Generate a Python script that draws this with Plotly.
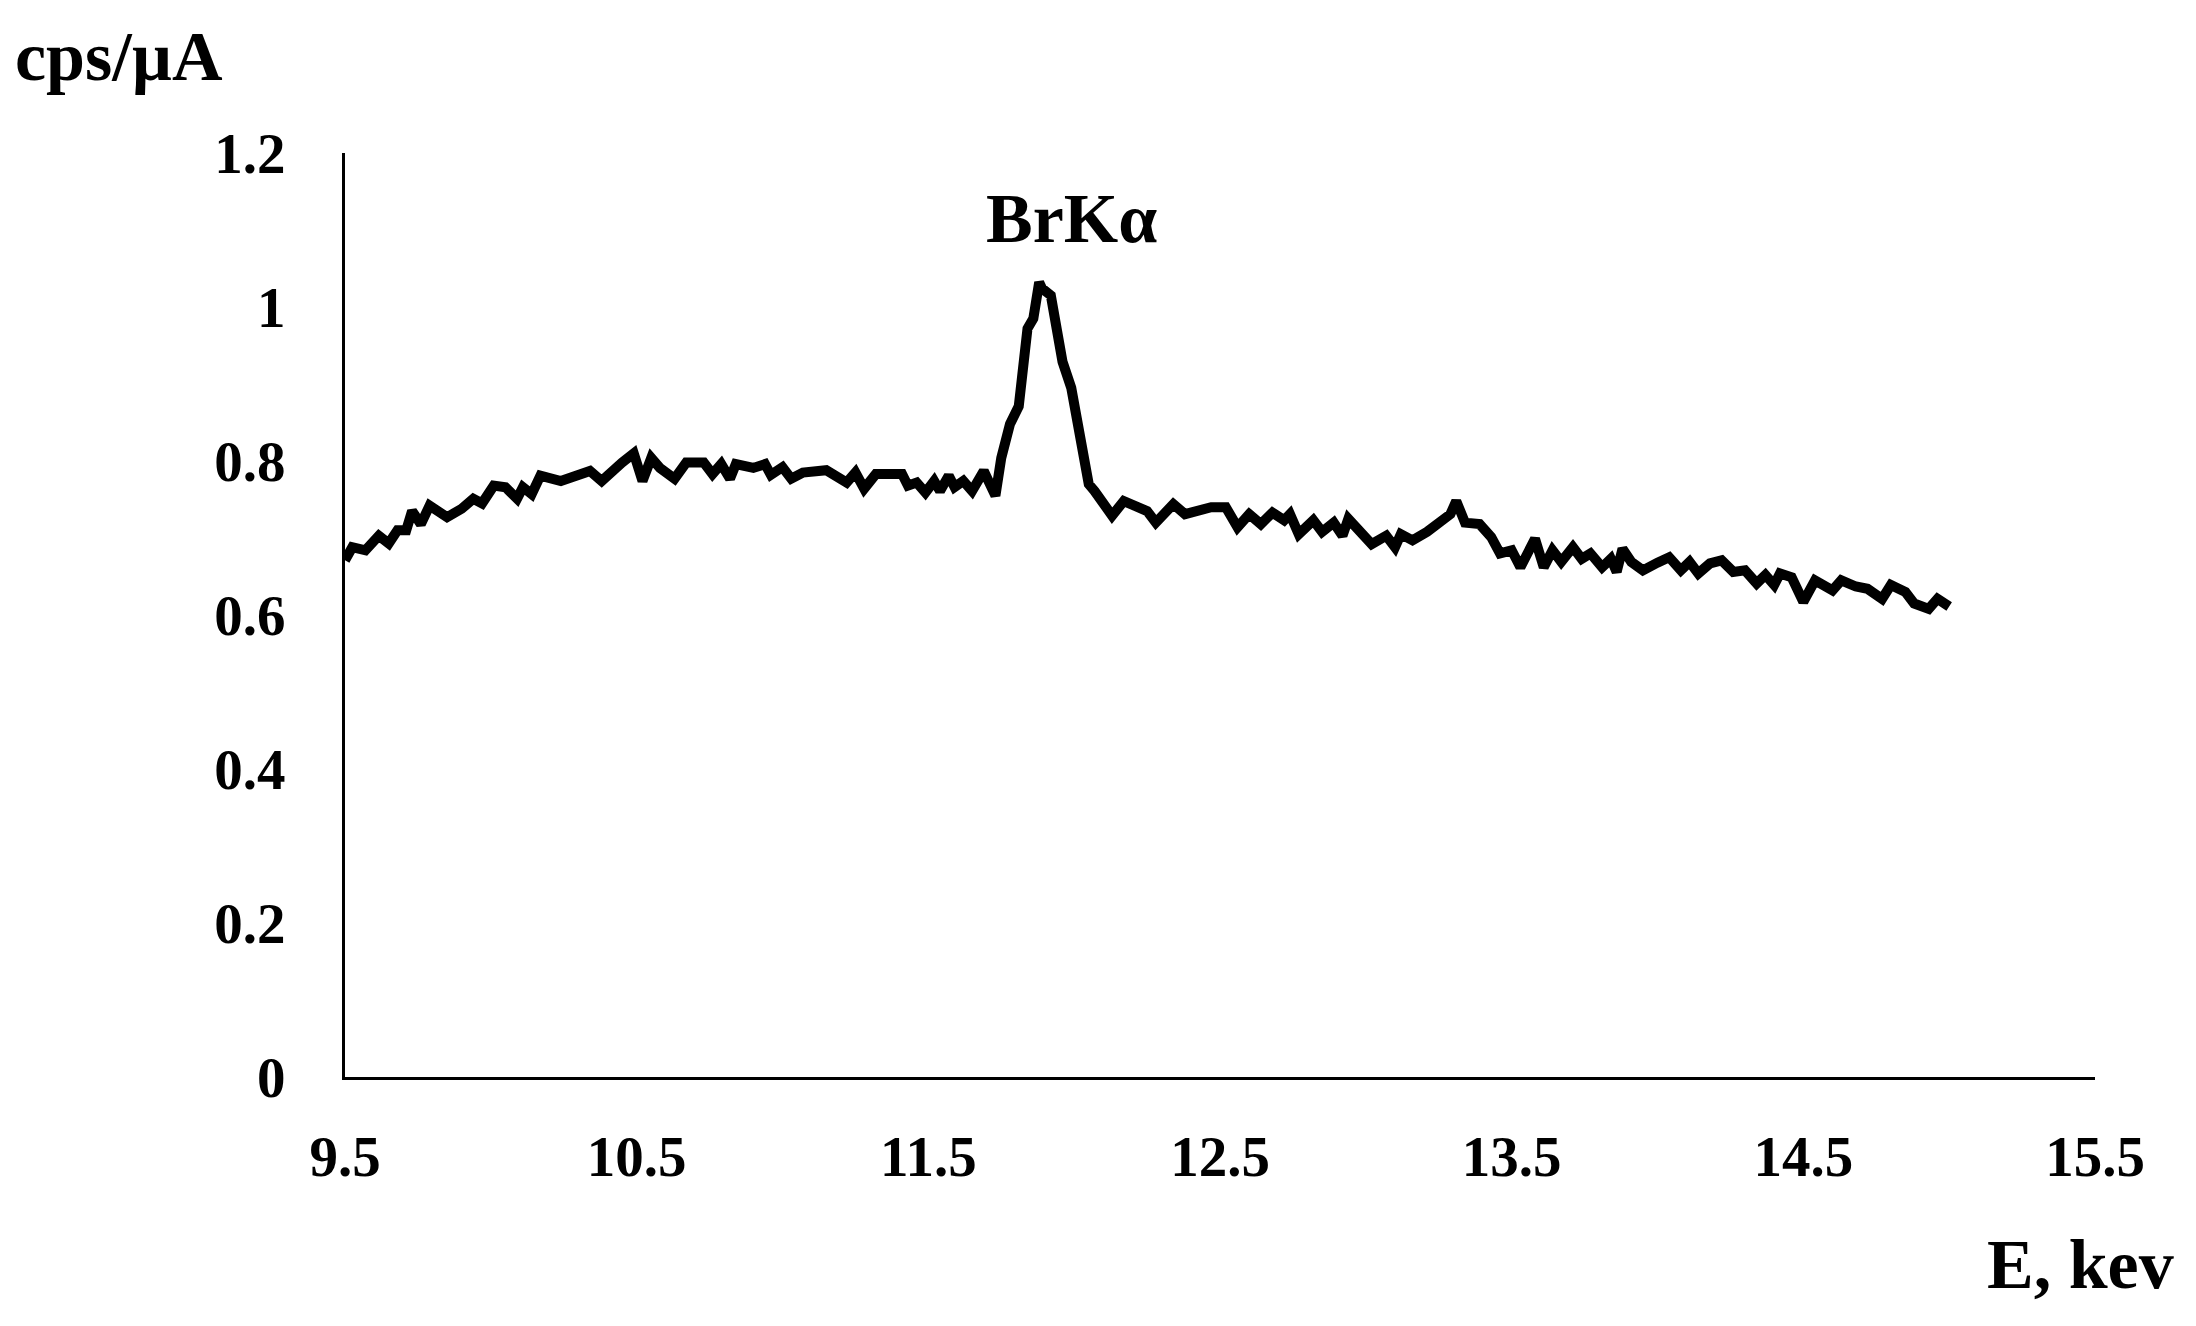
import plotly.graph_objects as go

# Energy (keV) and intensity (cps/µA)
energy = [
    9.50, 9.525, 9.57, 9.616, 9.65, 9.68, 9.71, 9.73, 9.76, 9.79,
    9.85, 9.90, 9.94, 9.97, 10.01, 10.05, 10.09, 10.11, 10.14, 10.17,
    10.24, 10.29, 10.34, 10.38, 10.42, 10.45, 10.49, 10.52, 10.55, 10.58,
    10.63, 10.67, 10.73, 10.76, 10.79, 10.82, 10.84, 10.90, 10.94, 10.96,
    11.00, 11.03, 11.07, 11.15, 11.22, 11.25, 11.28, 11.32, 11.41, 11.43,
    11.46, 11.49, 11.52, 11.54, 11.57, 11.59, 11.62, 11.65, 11.69, 11.73,
    11.75, 11.78, 11.81, 11.83, 11.84, 11.86, 11.88, 11.89, 11.92, 11.94,
    11.96, 11.99, 12.02, 12.05, 12.07, 12.10, 12.13, 12.17, 12.22, 12.25,
    12.28, 12.34, 12.38, 12.42, 12.47, 12.52, 12.56, 12.60, 12.64, 12.68,
    12.72, 12.74, 12.77, 12.82, 12.85, 12.89, 12.92, 12.94, 12.98, 13.02,
    13.07, 13.10, 13.12, 13.16, 13.21, 13.26, 13.29, 13.31, 13.34, 13.39,
    13.43, 13.46, 13.50, 13.53, 13.58, 13.61, 13.64, 13.67, 13.71, 13.74,
    13.77, 13.81, 13.84, 13.86, 13.88, 13.91, 13.95, 14.00, 14.04, 14.08,
    14.11, 14.14, 14.18, 14.22, 14.26, 14.30, 14.34, 14.37, 14.40, 14.42,
    14.46, 14.50, 14.54, 14.60, 14.63, 14.68, 14.72, 14.77, 14.80, 14.85,
    14.88, 14.93, 14.96, 15.00,
]
intensity = [
    0.671, 0.688, 0.684, 0.703, 0.693, 0.710, 0.710, 0.735, 0.718, 0.742,
    0.727, 0.738, 0.751, 0.745, 0.768, 0.766, 0.751, 0.766, 0.757, 0.781,
    0.774, 0.781, 0.787, 0.774, 0.790, 0.798, 0.810, 0.774, 0.804, 0.791,
    0.777, 0.798, 0.798, 0.783, 0.796, 0.777, 0.796, 0.791, 0.796, 0.782,
    0.792, 0.777, 0.785, 0.788, 0.772, 0.785, 0.764, 0.783, 0.783, 0.768,
    0.772, 0.759, 0.774, 0.761, 0.781, 0.766, 0.774, 0.761, 0.787, 0.755,
    0.804, 0.848, 0.871, 0.938, 0.972, 0.985, 1.032, 1.024, 1.015, 0.972,
    0.929, 0.895, 0.835, 0.770, 0.761, 0.746, 0.729, 0.748, 0.738, 0.735,
    0.720, 0.744, 0.731, 0.735, 0.740, 0.740, 0.714, 0.731, 0.718, 0.733,
    0.723, 0.731, 0.705, 0.723, 0.708, 0.720, 0.703, 0.725, 0.708, 0.692,
    0.703, 0.688, 0.705, 0.697, 0.708, 0.725, 0.731, 0.748, 0.720, 0.718,
    0.701, 0.680, 0.684, 0.662, 0.699, 0.662, 0.684, 0.669, 0.688, 0.673,
    0.680, 0.662, 0.673, 0.656, 0.686, 0.669, 0.658, 0.668, 0.675, 0.658,
    0.669, 0.654, 0.667, 0.671, 0.656, 0.658, 0.641, 0.652, 0.639, 0.654,
    0.649, 0.617, 0.645, 0.632, 0.645, 0.637, 0.634, 0.621, 0.639, 0.630,
    0.615, 0.608, 0.621, 0.611,
]

peak_label = "BrKα"
peak_pos = (11.99, 1.115)

serif = "Times New Roman, Liberation Serif, serif"

fig = go.Figure(go.Scatter(
    x=energy, y=intensity, mode="lines",
    line=dict(color="black", width=10),
))

fig.add_annotation(x=peak_pos[0], y=peak_pos[1], text=peak_label, showarrow=False,
                   font=dict(family=serif, size=70, color="black", weight="bold"))
# axis titles placed like in the original (top-left and bottom-right)
fig.add_annotation(xref="paper", yref="paper", x=-0.19, y=1.104, text="cps/µA",
                   showarrow=False, xanchor="left", yanchor="middle",
                   font=dict(family=serif, size=70, color="black", weight="bold"))
fig.add_annotation(xref="paper", yref="paper", x=1.046, y=-0.203, text="E, kev",
                   showarrow=False, xanchor="right", yanchor="middle",
                   font=dict(family=serif, size=70, color="black", weight="bold"))

# page body has a small margin, so the figure is a bit smaller than the window
fig.update_layout(
    width=2180, height=1310,
    margin=dict(l=337, r=93, t=145, b=241),
    paper_bgcolor="white", plot_bgcolor="white",
    showlegend=False,
    font=dict(family=serif, size=57, color="black", weight="bold"),
)
fig.update_xaxes(range=[9.5, 15.5], tick0=9.5, dtick=1, showgrid=False, zeroline=False,
                 showline=True, linecolor="black", linewidth=3, ticks="",
                 ticklabelstandoff=28)
fig.update_yaxes(range=[0, 1.2], dtick=0.2, showgrid=False, zeroline=False,
                 showline=True, linecolor="black", linewidth=3, ticks="",
                 ticklabelstandoff=45)

fig.write_html("out.html")
